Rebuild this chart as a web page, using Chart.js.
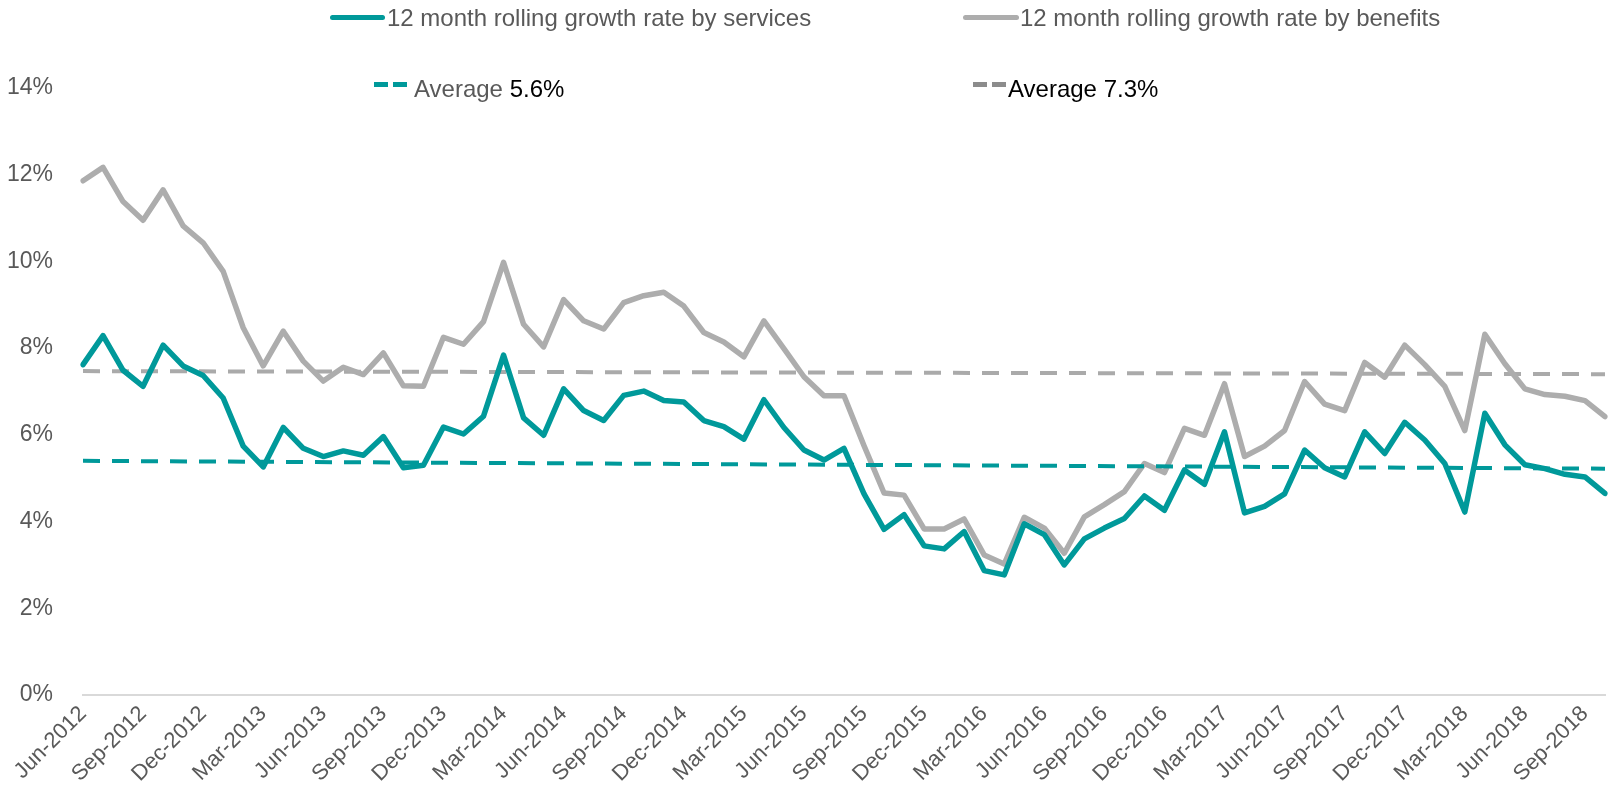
<!DOCTYPE html>
<html lang="en">
<head>
<meta charset="UTF-8" />
<title>12 month rolling growth rate</title>
<script src="https://cdn.jsdelivr.net/npm/chart.js"></script>
<style>
  * { margin: 0; padding: 0; box-sizing: border-box; }
  body { background: #ffffff; font-family: "Liberation Sans", Arial, sans-serif; }
  #wrap { position: relative; width: 1608px; height: 799px; }
  .lg { position: absolute; font-size: 24px; line-height: 26px; color: #595959; white-space: nowrap; }
  .swatch { position: absolute; height: 5px; border-radius: 3px; }
  .dash { position: absolute; height: 5px; width: 14px; }
  .black { color: #000000; }
</style>
</head>
<body>
<div id="wrap">
  <canvas id="chart"></canvas>

  <!-- legend, laid out like the original two rows -->
  <div class="swatch" style="left:330px;top:15px;width:55px;background:#00999a"></div>
  <div class="lg" style="left:387px;top:5px">12 month rolling growth rate by services</div>
  <div class="swatch" style="left:963px;top:15px;width:56px;background:#adadad"></div>
  <div class="lg" style="left:1020px;top:5px">12 month rolling growth rate by benefits</div>

  <div class="dash" style="left:374px;top:82px;background:#00999a"></div>
  <div class="dash" style="left:393px;top:82px;background:#00999a"></div>
  <div class="lg" style="left:414px;top:76px">Average <span class="black">5.6%</span></div>
  <div class="dash" style="left:973px;top:82px;background:#8c8c8c"></div>
  <div class="dash" style="left:992px;top:82px;background:#8c8c8c"></div>
  <div class="lg black" style="left:1008px;top:76px">Average 7.3%</div>
</div>

<script>
// months, Jun-2012 .. Oct-2018
const categories = [
  'Jun-2012','Jul-2012','Aug-2012','Sep-2012','Oct-2012','Nov-2012','Dec-2012',
  'Jan-2013','Feb-2013','Mar-2013','Apr-2013','May-2013','Jun-2013','Jul-2013','Aug-2013','Sep-2013','Oct-2013','Nov-2013','Dec-2013',
  'Jan-2014','Feb-2014','Mar-2014','Apr-2014','May-2014','Jun-2014','Jul-2014','Aug-2014','Sep-2014','Oct-2014','Nov-2014','Dec-2014',
  'Jan-2015','Feb-2015','Mar-2015','Apr-2015','May-2015','Jun-2015','Jul-2015','Aug-2015','Sep-2015','Oct-2015','Nov-2015','Dec-2015',
  'Jan-2016','Feb-2016','Mar-2016','Apr-2016','May-2016','Jun-2016','Jul-2016','Aug-2016','Sep-2016','Oct-2016','Nov-2016','Dec-2016',
  'Jan-2017','Feb-2017','Mar-2017','Apr-2017','May-2017','Jun-2017','Jul-2017','Aug-2017','Sep-2017','Oct-2017','Nov-2017','Dec-2017',
  'Jan-2018','Feb-2018','Mar-2018','Apr-2018','May-2018','Jun-2018','Jul-2018','Aug-2018','Sep-2018','Oct-2018'
];

// 12 month rolling growth rate by services (%)
const services = [
  7.62, 8.29, 7.49, 7.12, 8.07, 7.59, 7.37,
  6.85, 5.74, 5.26, 6.17, 5.69, 5.50, 5.63, 5.53, 5.96, 5.24, 5.30, 6.18,
  6.02, 6.43, 7.84, 6.39, 5.99, 7.06, 6.56, 6.33, 6.91, 7.01, 6.79, 6.76,
  6.33, 6.19, 5.90, 6.81, 6.17, 5.65, 5.42, 5.69, 4.64, 3.82, 4.16, 3.44,
  3.37, 3.77, 2.87, 2.77, 3.95, 3.70, 3.00, 3.60, 3.85, 4.07, 4.59, 4.26,
  5.19, 4.86, 6.07, 4.20, 4.35, 4.64, 5.65, 5.24, 5.03, 6.07, 5.57, 6.29,
  5.88, 5.34, 4.22, 6.50, 5.77, 5.31, 5.22, 5.09, 5.03, 4.65
];

// 12 month rolling growth rate by benefits (%)
const benefits = [
  11.86, 12.17, 11.38, 10.95, 11.65, 10.82, 10.43,
  9.77, 8.47, 7.59, 8.39, 7.70, 7.24, 7.56, 7.39, 7.89, 7.13, 7.12, 8.25,
  8.09, 8.61, 9.98, 8.55, 8.03, 9.12, 8.63, 8.44, 9.05, 9.21, 9.29, 8.97,
  8.36, 8.14, 7.80, 8.63, 7.99, 7.34, 6.90, 6.90, 5.75, 4.66, 4.61, 3.83,
  3.83, 4.06, 3.23, 3.02, 4.10, 3.85, 3.27, 4.11, 4.39, 4.69, 5.34, 5.13,
  6.15, 5.99, 7.18, 5.50, 5.74, 6.10, 7.23, 6.71, 6.56, 7.67, 7.33, 8.07,
  7.62, 7.12, 6.10, 8.32, 7.64, 7.06, 6.93, 6.89, 6.79, 6.42
];

// average lines as drawn: value at first and last month
const servicesAvg = [5.40, 5.22];
const benefitsAvg = [7.47, 7.40];

const yTicks = [0, 2, 4, 6, 8, 10, 12, 14];

const TEAL = '#00999a';
const GREY = '#adadad';

// two-point line spanning the whole period
const endsOnly = ends => categories.map((c, i) =>
  i === 0 ? ends[0] : (i === categories.length - 1 ? ends[1] : null));

Chart.defaults.font.family = '"Liberation Sans", Arial, sans-serif';
Chart.defaults.color = '#595959';

new Chart(document.getElementById('chart'), {
  type: 'line',
  data: {
    labels: categories,
    datasets: [
      {
        label: '12 month rolling growth rate by services',
        data: services,
        borderColor: TEAL,
        borderWidth: 5.5,
        borderCapStyle: 'round',
        borderJoinStyle: 'round',
        pointRadius: 0,
        tension: 0
      },
      {
        label: 'Average 5.6%',
        data: endsOnly(servicesAvg),
        borderColor: TEAL,
        borderWidth: 4,
        borderDash: [17, 12],
        spanGaps: true,
        pointRadius: 0
      },
      {
        label: '12 month rolling growth rate by benefits',
        data: benefits,
        borderColor: GREY,
        borderWidth: 5.5,
        borderCapStyle: 'round',
        borderJoinStyle: 'round',
        pointRadius: 0,
        tension: 0
      },
      {
        label: 'Average 7.3%',
        data: endsOnly(benefitsAvg),
        borderColor: '#aaaaaa',
        borderWidth: 4,
        borderDash: [17, 12],
        spanGaps: true,
        pointRadius: 0
      }
    ]
  },
  options: {
    responsive: true,
    maintainAspectRatio: false,
    animation: false,
    layout: { padding: { top: 88, right: 3, bottom: 0, left: 0 } },
    plugins: {
      legend: { display: false },
      tooltip: { enabled: false }
    },
    scales: {
      x: {
        offset: false,
        afterFit: s => { s.height = 104; s.paddingLeft = 0; s.paddingRight = 0; },
        grid: { display: false, drawTicks: false },
        border: { display: true, color: '#d9d9d9', width: 2 },
        ticks: {
          autoSkip: false,
          minRotation: 45,
          maxRotation: 45,
          padding: 6,
          color: '#595959',
          font: { size: 22 },
          callback: (v, i) => (i % 3 === 0 ? categories[i] : '')
        }
      },
      y: {
        min: 0,
        max: 14,
        afterFit: s => { s.width = 83; },
        afterBuildTicks: s => { s.ticks = yTicks.map(v => ({ value: v })); },
        grid: { display: false, drawTicks: false },
        border: { display: false },
        ticks: {
          padding: 30,
          color: '#595959',
          font: { size: 23 },
          callback: v => v + '%'
        }
      }
    }
  }
});
</script>
</body>
</html>
